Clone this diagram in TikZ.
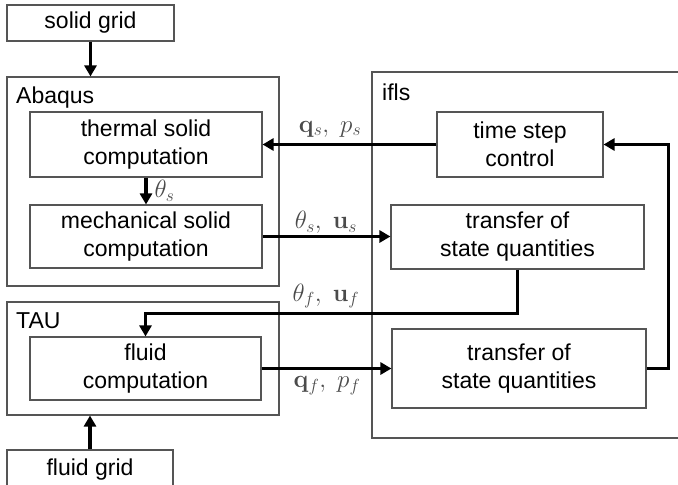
\RequirePackage{fix-cm}
\documentclass[tikz,border=0pt]{standalone}
\usepackage[no-math]{fontspec}
\setmainfont{Liberation Sans}
\usepackage{tikz}
\usetikzlibrary{arrows.meta}
\definecolor{boxgray}{RGB}{85,85,85}
\definecolor{labelgray}{RGB}{75,75,75}

\begin{document}
\begin{tikzpicture}[x=1pt, y=-1pt,
  box/.style={draw=boxgray, line width=1.1pt, align=center, inner sep=0pt, font=\fontsize{23}{28}\selectfont},
  group/.style={draw=boxgray, line width=1.1pt, inner sep=0pt},
  grouplabel/.style={anchor=west, inner sep=0pt, font=\fontsize{23}{28}\selectfont},
  flow/.style={-{Triangle[length=11pt,width=12pt]}, line width=3.4pt},
  flowlabel/.style={text=labelgray, font=\fontsize{25}{30}\selectfont}]

\useasboundingbox (0,0) rectangle (678,485);

% --- Abaqus ---
\node[box, minimum width=167pt, minimum height=36pt] (solidgrid) at (90.5,23) {solid grid};
\node[group, minimum width=272pt, minimum height=209pt] (abaqus) at (143,181.5) {};
\node[grouplabel] (abaquslbl) at (16,98) {Abaqus};
\node[box, minimum width=232pt, minimum height=65pt] (thermal) at (146,144.5) {thermal solid\\computation};
\node[box, minimum width=232pt, minimum height=63pt] (mech) at (146,236.5) {mechanical solid\\computation};

% --- TAU ---
\node[group, minimum width=272pt, minimum height=113pt] (tau) at (143,358.5) {};
\node[grouplabel] (taulbl) at (16,321) {TAU};
\node[box, minimum width=231pt, minimum height=63pt] (fluid) at (145.5,368.5) {fluid\\computation};
\node[box, minimum width=166pt, minimum height=40pt] (fluidgrid) at (90,470) {fluid grid};

% --- ifls (open to the right edge) ---
\draw[group] (678,72) -| (372,438) -- (678,438);
\node[grouplabel] (iflslbl) at (382,92) {ifls};
\node[box, minimum width=166pt, minimum height=65pt] (tsc) at (520,144.5) {time step\\control};
\node[box, minimum width=253pt, minimum height=64pt] (transA) at (517.5,237) {transfer of\\state quantities};
\node[box, minimum width=254pt, minimum height=79pt] (transB) at (519,368.5) {transfer of\\state quantities};

% --- Flows ---
\draw[flow] (solidgrid.south) -- (solidgrid.south |- abaqus.north);
\draw[flow] (tsc.west) -- (thermal.east);
\draw[flow] (thermal.south) -- (mech.north);
\draw[flow] (mech.east) -- (mech.east -| transA.west);
\draw[flow] (transA.south) -- ++(0,44) -| (fluid.north);
\draw[flow] (fluid.east) -- (transB.west);
\draw[flow] (transB.east) -- ++(22,0) |- (tsc.east);
\draw[flow] (fluidgrid.north) -- (fluidgrid.north |- tau.south);

\node[flowlabel] (qslbl) at (330,129) {$\mathbf{q}_s,\ p_s$};
\node[flowlabel, anchor=west] (thetalbl) at (151,191) {$\theta_s$};
\node[flowlabel] (thslbl) at (326,222) {$\theta_s,\ \mathbf{u}_s$};
\node[flowlabel] (thflbl) at (326,296) {$\theta_f,\ \mathbf{u}_f$};
\node[flowlabel] (qflbl) at (327,386) {$\mathbf{q}_f,\ p_f$};

\end{tikzpicture}
\end{document}
